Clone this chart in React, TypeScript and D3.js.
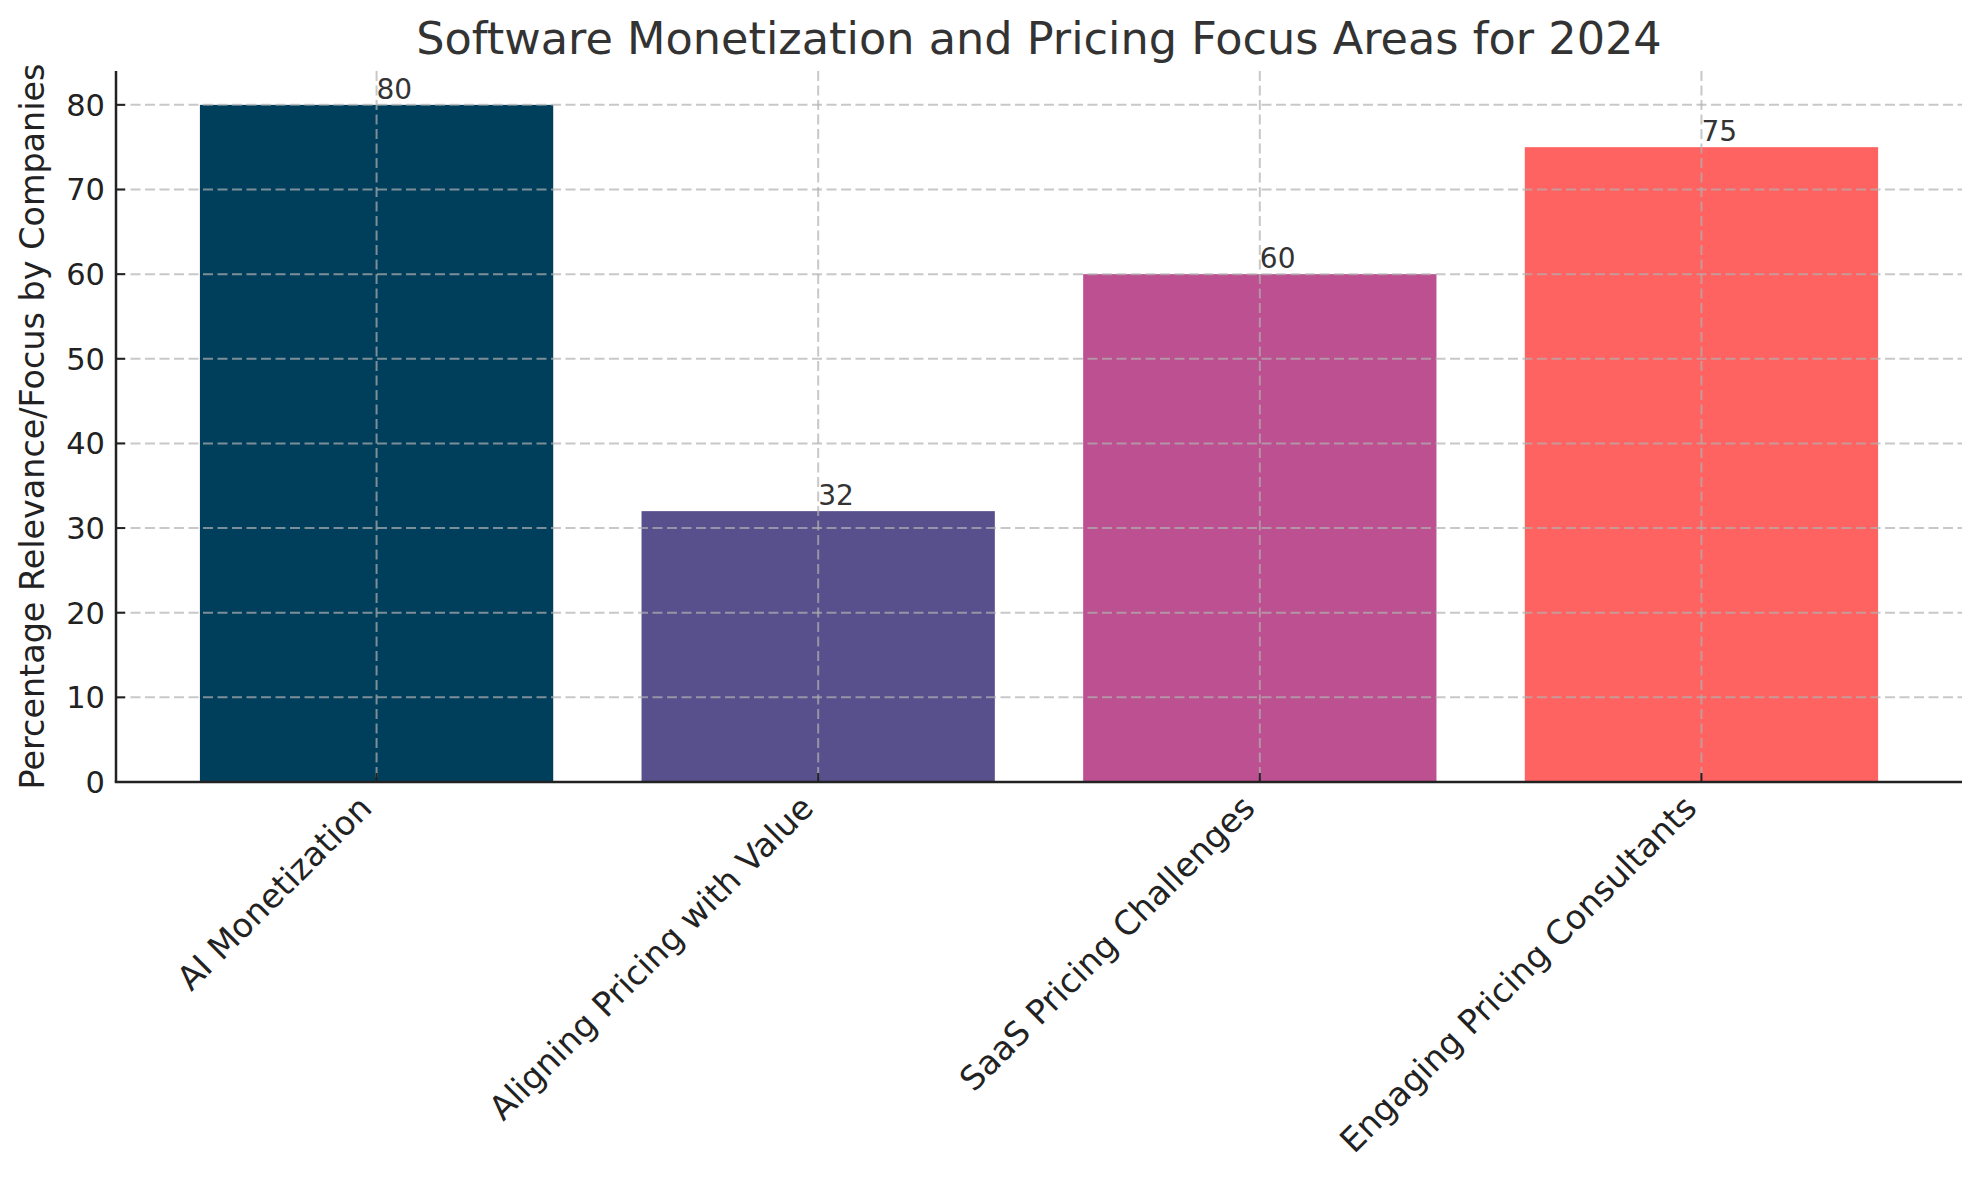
import { useEffect, useRef } from "react";
import * as d3 from "d3";

const categories = [
  "AI Monetization",
  "Aligning Pricing with Value",
  "SaaS Pricing Challenges",
  "Engaging Pricing Consultants",
];
const values = [80, 32, 60, 75];
const barColors = ["#003f5c", "#58508d", "#bc5090", "#ff6361"];
const yTicks = [0, 10, 20, 30, 40, 50, 60, 70, 80];

const title = "Software Monetization and Pricing Focus Areas for 2024";
const yLabel = "Percentage Relevance/Focus by Companies";

const font = "'DejaVu Sans', sans-serif";

export default function App() {
  const ref = useRef<SVGSVGElement>(null);
  const width = 1979;
  const height = 1180;

  useEffect(() => {
    if (!ref.current) return;
    document.body.style.margin = "0";

    const svg = d3.select(ref.current);
    svg.selectAll("*").remove();

    const margin = { top: 71, right: 17, bottom: 398, left: 116 };
    const chartWidth = width - margin.left - margin.right;
    const chartHeight = height - margin.top - margin.bottom;

    svg.attr("width", width).attr("height", height);
    svg.append("rect").attr("width", width).attr("height", height).attr("fill", "#fff");

    const g = svg.append("g").attr("transform", `translate(${margin.left},${margin.top})`);

    const x = d3
      .scaleBand()
      .domain(categories)
      .range([0, chartWidth])
      .paddingInner(0.2)
      .paddingOuter(0.19);

    const y = d3.scaleLinear().domain([0, 84]).range([chartHeight, 0]);

    // bars
    g.selectAll(".bar")
      .data(categories)
      .enter()
      .append("rect")
      .attr("class", "bar")
      .attr("x", (d) => x(d)!)
      .attr("y", (_, i) => y(values[i]))
      .attr("width", x.bandwidth())
      .attr("height", (_, i) => chartHeight - y(values[i]))
      .attr("fill", (_, i) => barColors[i]);

    // grid on top of bars
    const grid = g.append("g").attr("stroke", "#b0b0b0").attr("stroke-opacity", 0.7)
      .attr("stroke-width", 2).attr("stroke-dasharray", "10,4.5");
    yTicks.slice(1).forEach((t) => {
      grid.append("line").attr("x1", 0).attr("x2", chartWidth).attr("y1", y(t)).attr("y2", y(t));
    });
    categories.forEach((c) => {
      const cx = x(c)! + x.bandwidth() / 2;
      grid.append("line").attr("x1", cx).attr("x2", cx).attr("y1", 0).attr("y2", chartHeight);
    });

    // value labels
    g.selectAll(".val")
      .data(categories)
      .enter()
      .append("text")
      .attr("class", "val")
      .attr("x", (d) => x(d)! + x.bandwidth() / 2)
      .attr("y", (_, i) => y(values[i]) - 6)
      .attr("font-family", font)
      .attr("font-size", 28)
      .attr("fill", "#333")
      .text((_, i) => values[i]);

    // spines
    g.append("line").attr("x1", 0).attr("x2", 0).attr("y1", 0).attr("y2", chartHeight)
      .attr("stroke", "#222").attr("stroke-width", 2.5);
    g.append("line").attr("x1", -1.25).attr("x2", chartWidth).attr("y1", chartHeight).attr("y2", chartHeight)
      .attr("stroke", "#222").attr("stroke-width", 2.5);

    // y ticks (inward)
    yTicks.forEach((t) => {
      g.append("line").attr("x1", 0).attr("x2", 9).attr("y1", y(t)).attr("y2", y(t))
        .attr("stroke", "#222").attr("stroke-width", 2);
      g.append("text")
        .attr("x", -11)
        .attr("y", y(t))
        .attr("dy", "0.36em")
        .attr("text-anchor", "end")
        .attr("font-family", font)
        .attr("font-size", 30.5)
        .attr("fill", "#222")
        .text(t);
    });

    // x ticks (inward) and rotated labels
    categories.forEach((c) => {
      const cx = x(c)! + x.bandwidth() / 2;
      g.append("line").attr("x1", cx).attr("x2", cx).attr("y1", chartHeight).attr("y2", chartHeight - 9)
        .attr("stroke", "#222").attr("stroke-width", 2);
      g.append("text")
        .attr("transform", `translate(${cx - 3},${chartHeight + 28}) rotate(-45)`)
        .attr("text-anchor", "end")
        .attr("font-family", font)
        .attr("font-size", 33.3)
        .attr("fill", "#222")
        .text(c);
    });

    // y axis label
    svg.append("text")
      .attr("transform", `translate(44,${margin.top + chartHeight / 2}) rotate(-90)`)
      .attr("text-anchor", "middle")
      .attr("font-family", font)
      .attr("font-size", 33.4)
      .attr("fill", "#222")
      .text(yLabel);

    // title
    svg.append("text")
      .attr("x", margin.left + chartWidth / 2)
      .attr("y", 54)
      .attr("text-anchor", "middle")
      .attr("font-family", font)
      .attr("font-size", 44.6)
      .attr("fill", "#333")
      .text(title);
  }, []);

  return (
    <div style={{ position: "absolute", left: 0, top: 0 }}>
      <svg ref={ref} style={{ display: "block" }} />
    </div>
  );
}
